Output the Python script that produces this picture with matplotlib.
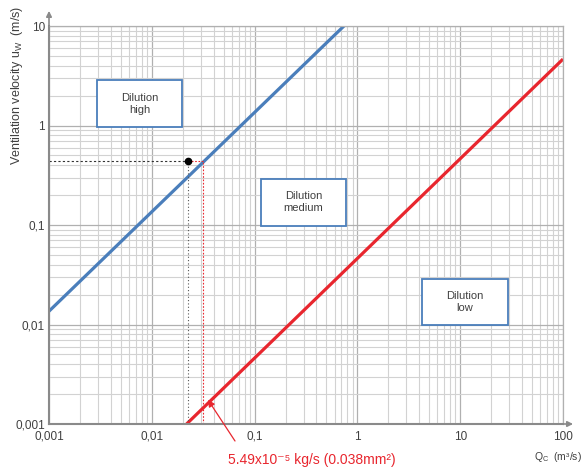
import matplotlib.pyplot as plt
from matplotlib.patches import Rectangle
from matplotlib.ticker import FixedLocator, FixedFormatter, LogLocator, NullFormatter

plt.rcParams['font.family'] = ['Liberation Sans', 'DejaVu Sans']
plt.rcParams['mathtext.default'] = 'regular'

# --- data ---
tick_vals_x = [0.001, 0.01, 0.1, 1, 10, 100]
tick_labels_x = ["0,001", "0,01", "0,1", "1", "10", "100"]
tick_vals_y = [0.001, 0.01, 0.1, 1, 10]
tick_labels_y = ["0,001", "0,01", "0,1", "1", "10"]

# boundary high / medium dilution
q_high = [0.001, 0.74]
u_high = [0.0136, 10]
# boundary medium / low dilution
q_low = [0.0218, 100]
u_low = [0.001, 4.65]

# worked example
q_point = 0.0225
u_point = 0.436
q_cross = 0.0318

zones = ["Dilution\nhigh", "Dilution\nmedium", "Dilution\nlow"]
# box corners (Q left, Q right, u bottom, u top)
zone_q0 = [0.0029, 0.115, 4.25]
zone_q1 = [0.0198, 0.774, 29.2]
zone_u0 = [0.966, 0.098, 0.0099]
zone_u1 = [2.86, 0.29, 0.0286]

blue = '#4a7ebb'
red = '#e8262e'
grey = '#8a8a8a'
txt = '#404040'

fig = plt.figure(figsize=(5.84, 4.73), dpi=100)
ax = fig.add_axes([49 / 584, 1 - 424 / 473, (563 - 49) / 584, (424 - 26) / 473])
ax.set_xscale('log')
ax.set_yscale('log')
ax.set_xlim(0.001, 100)
ax.set_ylim(0.001, 10)

# grid
ax.xaxis.set_minor_locator(LogLocator(base=10, subs=range(2, 10)))
ax.yaxis.set_minor_locator(LogLocator(base=10, subs=range(2, 10)))
ax.xaxis.set_minor_formatter(NullFormatter())
ax.yaxis.set_minor_formatter(NullFormatter())
ax.grid(which='major', color='#b0b0b0', lw=0.9)
ax.grid(which='minor', color='#d2d2d2', lw=0.8)
ax.set_axisbelow(True)

ax.xaxis.set_major_locator(FixedLocator(tick_vals_x))
ax.xaxis.set_major_formatter(FixedFormatter(tick_labels_x))
ax.yaxis.set_major_locator(FixedLocator(tick_vals_y))
ax.yaxis.set_major_formatter(FixedFormatter(tick_labels_y))
ax.tick_params(which='both', length=0, labelsize=8.5, labelcolor=txt)
ax.tick_params(axis='x', pad=5)
ax.tick_params(axis='y', pad=3)

for side in ['left', 'bottom']:
    ax.spines[side].set_color(grey)
    ax.spines[side].set_linewidth(1.5)
for side in ['top', 'right']:
    ax.spines[side].set_color('#b0b0b0')
    ax.spines[side].set_linewidth(0.9)

# axis arrows
ax.annotate('', xy=(0, 1.045), xytext=(0, 0.99), xycoords='axes fraction',
            arrowprops=dict(arrowstyle='-|>', color=grey, lw=1.2, mutation_scale=8))
ax.annotate('', xy=(1.025, 0), xytext=(0.99, 0), xycoords='axes fraction',
            arrowprops=dict(arrowstyle='-|>', color=grey, lw=1.2, mutation_scale=8))

# boundary lines
ax.plot(q_high, u_high, color=blue, lw=2.3, solid_capstyle='butt')
ax.plot(q_low, u_low, color=red, lw=2.3, solid_capstyle='butt')

# worked example construction lines
ax.plot([0.001, q_point], [u_point, u_point], color='#333333', lw=0.8, ls=(0, (2, 2)))
ax.plot([q_point, q_point], [0.001, u_point], color='#555555', lw=0.8, ls=(0, (1, 2)))
ax.plot([q_point, q_cross], [u_point, u_point], color=red, lw=0.8, ls=(0, (1.5, 1.5)))
ax.plot([q_cross, q_cross], [0.001, u_point], color=red, lw=0.8, ls=(0, (1.5, 1.5)))
ax.plot([q_point], [u_point], 'o', color='black', ms=4.5)

# zone boxes
for label, q0, q1, u0, u1 in zip(zones, zone_q0, zone_q1, zone_u0, zone_u1):
    ax.add_patch(Rectangle((q0, u0), q1 - q0, u1 - u0, fc='white', ec=blue,
                           lw=1.3, zorder=3))
    ax.text((q0 * q1) ** 0.5, (u0 * u1) ** 0.5, label, ha='center', va='center',
            fontsize=8, color=txt, linespacing=1.25, zorder=4)

# annotation for the example
ax.annotate('', xy=(0.0352, 0.00175), xycoords='data',
            xytext=(235 / 584, 1 - 441 / 473), textcoords='figure fraction',
            arrowprops=dict(arrowstyle='-|>', color=red, lw=0.9, mutation_scale=10,
                            shrinkA=0, shrinkB=0))
fig.text(228 / 584, 1 - 460 / 473, '5.49x10\u207b\u2075 kg/s (0.038mm\u00b2)',
         color=red, fontsize=10, ha='left', va='center')

# axis labels
fig.text(17 / 584, 1 - 85 / 473, 'Ventilation velocity u$_{W}$  (m/s)', rotation=90,
         ha='center', va='center', fontsize=9, color=txt)
fig.text(582 / 584, 1 - 457 / 473, 'Q$_{C}$  (m\u00b3/s)', ha='right', va='center',
         fontsize=7.5, color=txt)

fig.savefig('out.png', dpi=100)
